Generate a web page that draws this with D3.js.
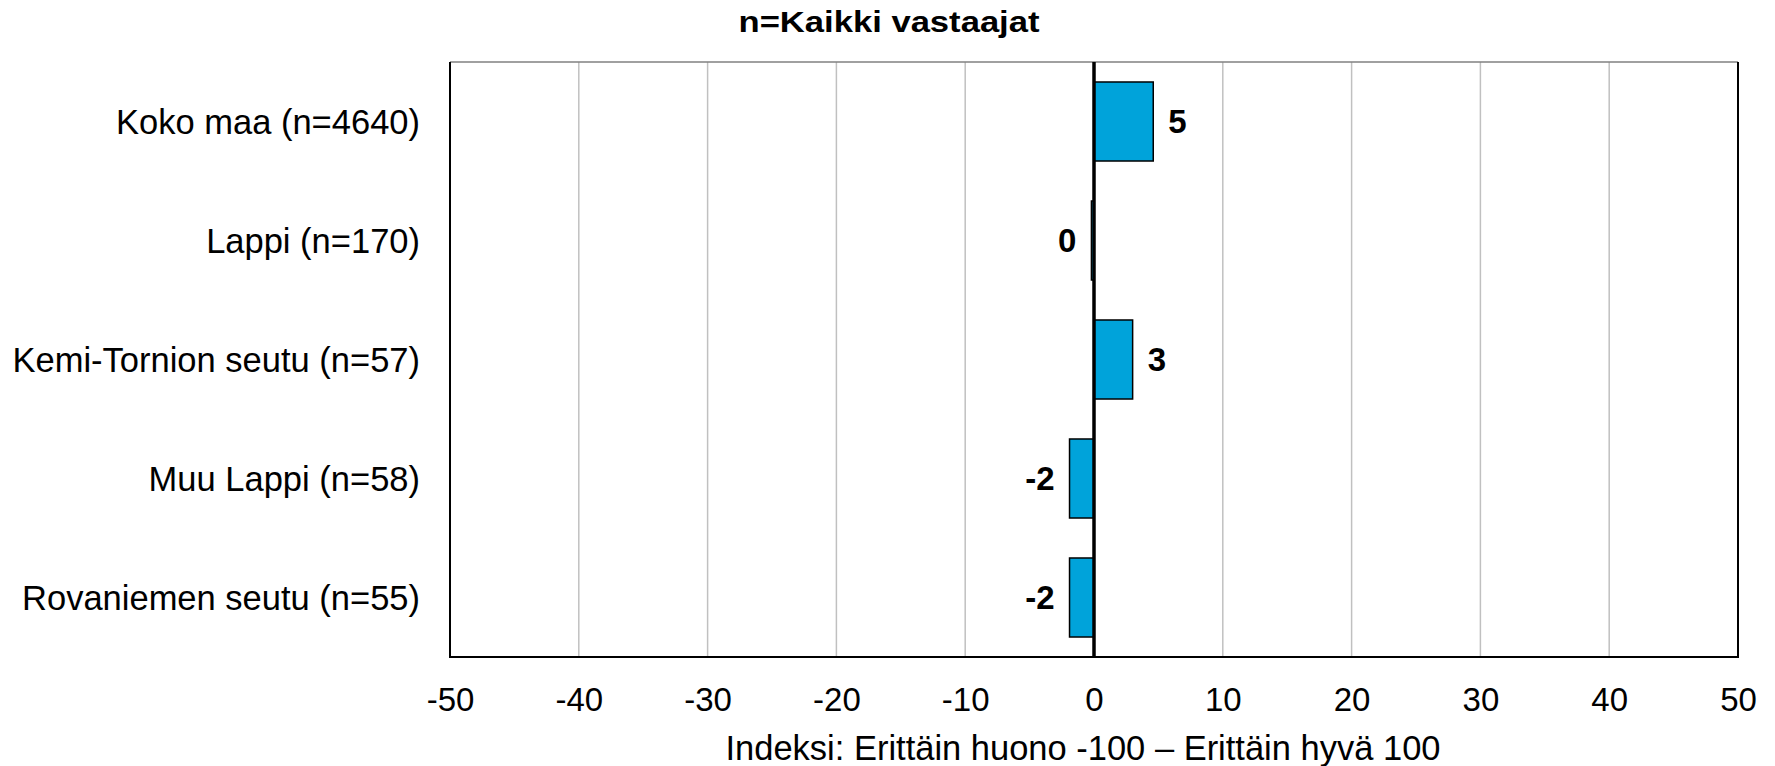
<!DOCTYPE html>
<html>
<head>
<meta charset="utf-8">
<script src="https://cdn.jsdelivr.net/npm/d3@7"></script>
<style>
  body { margin: 0; background: #fff; }
  text { font-family: "Liberation Sans", Arial, sans-serif; fill: #000; }
</style>
</head>
<body>
<div id="chart"></div>
<script>
var categories = [
  "Koko maa (n=4640)",
  "Lappi (n=170)",
  "Kemi-Tornion seutu (n=57)",
  "Muu Lappi (n=58)",
  "Rovaniemen seutu (n=55)"
];
var values = [4.6, -0.2, 3.0, -1.9, -1.9];
var xTicks = [-50, -40, -30, -20, -10, 0, 10, 20, 30, 40, 50];
var title = "n=Kaikki vastaajat";
var xTitle = "Indeksi: Erittäin huono -100 \u2013 Erittäin hyvä 100";

var W = 1775, H = 766;
var plotLeft = 450, plotRight = 1738, plotTop = 62, plotBottom = 657;

var svg = d3.select("#chart").append("svg")
  .attr("width", W)
  .attr("height", H);

var x = d3.scaleLinear().domain([-50, 50]).range([plotLeft, plotRight]);
var y = d3.scaleBand().domain(categories).range([plotTop, plotBottom])
  .paddingInner(0.336).paddingOuter(0.168);

// gridlines
svg.append("g")
  .selectAll("line")
  .data(xTicks.filter(function (d) { return d > -50 && d < 50 && d != 0; }))
  .enter().append("line")
    .attr("x1", function (d) { return x(d); })
    .attr("x2", function (d) { return x(d); })
    .attr("y1", plotTop)
    .attr("y2", plotBottom)
    .attr("stroke", "#c0c0c0")
    .attr("stroke-width", 1.5);

// frame: grey top, black elsewhere
svg.append("line")
  .attr("x1", plotLeft).attr("x2", plotRight)
  .attr("y1", plotTop).attr("y2", plotTop)
  .attr("stroke", "#808080").attr("stroke-width", 1.5);
svg.append("path")
  .attr("d", "M" + plotLeft + "," + plotTop + "V" + plotBottom + "H" + plotRight + "V" + plotTop)
  .attr("fill", "none")
  .attr("stroke", "#000")
  .attr("stroke-width", 2);

// bars
svg.append("g")
  .selectAll("rect")
  .data(values)
  .enter().append("rect")
    .attr("x", function (d) { return x(Math.min(0, d)); })
    .attr("y", function (d, i) { return y(categories[i]); })
    .attr("width", function (d) { return Math.abs(x(d) - x(0)); })
    .attr("height", y.bandwidth())
    .attr("fill", "#00a3da")
    .attr("stroke", "#000")
    .attr("stroke-width", 1.5);

// zero line
svg.append("line")
  .attr("x1", x(0)).attr("x2", x(0))
  .attr("y1", plotTop).attr("y2", plotBottom)
  .attr("stroke", "#000")
  .attr("stroke-width", 3.5);

// value labels
svg.append("g")
  .selectAll("text")
  .data(values)
  .enter().append("text")
    .attr("x", function (d) { return d > 0 ? x(d) + 15 : x(d) - 15; })
    .attr("y", function (d, i) { return y(categories[i]) + y.bandwidth() / 2; })
    .attr("dy", "0.36em")
    .attr("text-anchor", function (d) { return d > 0 ? "start" : "end"; })
    .attr("font-size", 33)
    .attr("font-weight", "bold")
    .text(function (d) { return String(Math.round(d)); });

// category labels
svg.append("g")
  .selectAll("text")
  .data(categories)
  .enter().append("text")
    .attr("x", 420)
    .attr("y", function (d) { return y(d) + y.bandwidth() / 2; })
    .attr("dy", "0.36em")
    .attr("text-anchor", "end")
    .attr("font-size", 34.5)
    .text(function (d) { return d; });

// x axis tick labels
var xAxis = d3.axisBottom(x).tickValues(xTicks).tickSize(0).tickPadding(0)
  .tickFormat(function (d) { return String(d); });
var ax = svg.append("g")
  .attr("transform", "translate(0," + plotBottom + ")")
  .call(xAxis);
ax.select(".domain").remove();
ax.attr("font-size", 33).attr("font-family", null);
ax.selectAll("text")
  .attr("y", 54)
  .attr("dy", null)
  .attr("fill", "#000");

// titles
svg.append("text")
  .attr("x", 889)
  .attr("y", 32)
  .attr("text-anchor", "middle")
  .attr("font-size", 29)
  .attr("font-weight", "bold")
  .attr("textLength", 301)
  .attr("lengthAdjust", "spacingAndGlyphs")
  .text(title);

svg.append("text")
  .attr("x", 1083)
  .attr("y", 760)
  .attr("text-anchor", "middle")
  .attr("font-size", 35)
  .attr("textLength", 715)
  .attr("lengthAdjust", "spacingAndGlyphs")
  .text(xTitle);
</script>
</body>
</html>
